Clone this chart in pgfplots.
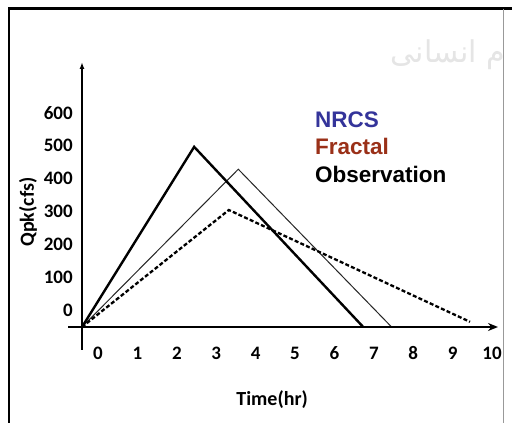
\documentclass[border=0pt]{standalone}
\usepackage{pgfplots}
\pgfplotsset{compat=1.18}
\usetikzlibrary{arrows.meta}
\usepackage{fontspec}
\setmainfont{Carlito}
\newfontfamily\arialfont{Liberation Sans}
\newfontfamily\arabicfont[Script=Arabic]{DejaVu Sans}
\TeXXeTstate=1
\definecolor{nrcsblue}{HTML}{34349A}
\definecolor{fractred}{HTML}{9A3018}
\begin{document}
\begin{tikzpicture}[x=1pt,y=1pt]
\useasboundingbox (0,0) rectangle (512,423);
\fill[white] (0,0) rectangle (512,423);
\node[font=\arabicfont\fontsize{30}{30}\selectfont, text=black!10] at (448,368) {\beginR م انسانی\endR};
\draw[line width=2.4pt] (9,-5) -- (9,414.5) -- (520,414.5);
\draw[black!40,line width=1pt] (503,414)--(503,-5);
\begin{axis}[
  at={(82pt,96pt)}, anchor=south west, scale only axis,
  width=416pt, height=265pt,
  xmin=-0.406, xmax=10.15, ymin=-51.7, ymax=754,
  axis lines=left, axis line style={draw=none},
  tick style={draw=none},
  xtick={0,...,10}, ytick={0,100,...,600},
  /pgf/number format/assume math mode=true,
  xticklabel style={anchor=base, inner sep=0pt, yshift=-30pt, font=\fontsize{19}{19}\selectfont\bfseries},
  yticklabel style={anchor=east, inner sep=0pt, xshift=-7pt, font=\fontsize{19}{19}\selectfont\bfseries},
  xlabel={Time(hr)}, ylabel={Qpk(cfs)},
  xlabel style={at={(axis description cs:0.457,-0.275)}, anchor=center, font=\fontsize{20}{20}\selectfont\bfseries},
  ylabel style={at={(axis description cs:-0.13,0.434)}, anchor=center, rotate=0, font=\fontsize{20}{20}\selectfont\bfseries},
  clip=false,
]
\addplot[black!85, line width=1pt, line join=miter] coordinates {(-0.406,-51.7) (3.56,428) (7.45,-51.7)};
\addplot[black, line width=2.3pt, dash pattern=on 4pt off 2.2pt] coordinates {(-0.406,-51.7) (3.32,304) (9.44,-36)};
\addplot[black, line width=2.4pt, line join=miter] coordinates {(-0.406,-51.7) (2.44,496) (6.73,-51.7)};
\draw[line width=2.2pt, -{Stealth[length=10pt,width=8pt]}] (axis cs:-0.76,-51.7) -- (axis cs:10.15,-51.7);
\draw[line width=2pt, -{Latex[length=7pt,width=5pt]}] (axis cs:-0.406,-121.6) -- (axis cs:-0.406,754);
\end{axis}
\node[anchor=base west, inner sep=0pt, font=\arialfont\fontsize{22.5}{22.5}\selectfont\bfseries, text=nrcsblue] at (315,295) {NRCS};
\node[anchor=base west, inner sep=0pt, font=\arialfont\fontsize{22.5}{22.5}\selectfont\bfseries, text=fractred] at (315,268) {Fractal};
\node[anchor=base west, inner sep=0pt, font=\arialfont\fontsize{22.5}{22.5}\selectfont\bfseries, text=black] at (315,240) {Observation};
\end{tikzpicture}
\end{document}
